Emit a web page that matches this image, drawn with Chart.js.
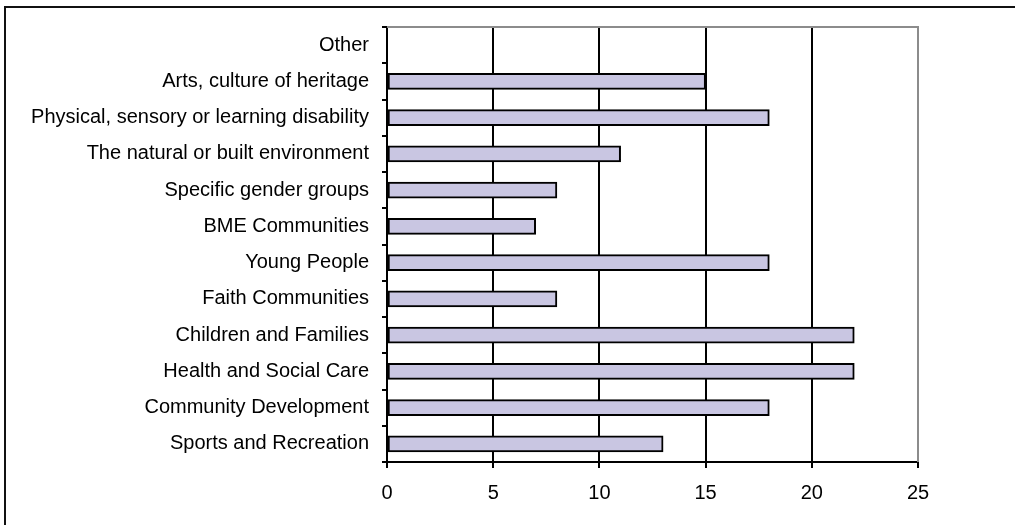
<!DOCTYPE html>
<html>
<head>
<meta charset="utf-8">
<script src="https://cdn.jsdelivr.net/npm/chart.js@4/dist/chart.umd.min.js"></script>
<style>
  html, body { margin: 0; padding: 0; background: #fff; }
  #wrap { width: 1015px; height: 525px; position: relative; }
</style>
</head>
<body>
<div id="wrap"><canvas id="c" width="1015" height="525"></canvas></div>
<script>
/* data, top to bottom as drawn */
const categories = [
  'Other',
  'Arts, culture of heritage',
  'Physical, sensory or learning disability',
  'The natural or built environment',
  'Specific gender groups',
  'BME Communities',
  'Young People',
  'Faith Communities',
  'Children and Families',
  'Health and Social Care',
  'Community Development',
  'Sports and Recreation',
];
const counts = [0, 15, 18, 11, 8, 7, 18, 8, 22, 22, 18, 13];
const xTicks = [0, 5, 10, 15, 20, 25];

const FONT = "'Liberation Sans', Arial, sans-serif";
Chart.defaults.font.family = FONT;
Chart.defaults.font.size = 20;
Chart.defaults.color = '#000';

// outer frame + gray top/right edges of the plot area
const framePlugin = {
  id: 'frame',
  beforeDraw(chart){
    const c = chart.ctx;
    c.save();
    c.fillStyle = '#fff';
    c.fillRect(0, 0, chart.width, chart.height);
    c.restore();
  },
  afterDraw(chart){
    const c = chart.ctx, a = chart.chartArea;
    c.save();
    c.strokeStyle = '#8c8c8c';
    c.lineWidth = 2;
    c.beginPath();
    c.moveTo(a.left, a.top);
    c.lineTo(a.right, a.top);
    c.lineTo(a.right, a.bottom);
    c.stroke();
    c.strokeStyle = '#111';
    c.lineWidth = 2;
    c.strokeRect(5, 7, 1100, 700);
    c.restore();
  },
};

new Chart(document.getElementById('c'), {
  type: 'bar',
  data: {
    labels: categories,
    datasets: [{
      data: counts,
      backgroundColor: '#c9c6e2',
      borderColor: '#000',
      borderWidth: 2,
      borderSkipped: false,
      barThickness: 16,
    }],
  },
  options: {
    indexAxis: 'y',
    responsive: false,
    animation: false,
    layout: { padding: { top: 27, right: 97, left: 0, bottom: 0 } },
    plugins: { legend: { display: false }, tooltip: { enabled: false } },
    scales: {
      x: {
        min: 0, max: 25,
        afterBuildTicks: s => { s.ticks = xTicks.map(v => ({ value: v })); },
        afterFit: s => { s.height = 63; },
        ticks: { padding: 13, font: { size: 20 } },
        grid: {
          color: ctx => (ctx.tick && ctx.tick.value === 25) ? '#8c8c8c' : '#000',
          lineWidth: 2,
          tickLength: 6,
          tickColor: '#000',
        },
        border: { color: '#000', width: 2 },
      },
      y: {
        afterFit: s => { s.width = 387; },
        ticks: { padding: 13, font: { size: 20 } },
        grid: {
          drawOnChartArea: false,
          drawTicks: true,
          tickLength: 5,
          color: '#000',
          lineWidth: 2,
          offset: true,
        },
        border: { color: '#000', width: 2 },
      },
    },
  },
  plugins: [framePlugin],
});
</script>
</body>
</html>
